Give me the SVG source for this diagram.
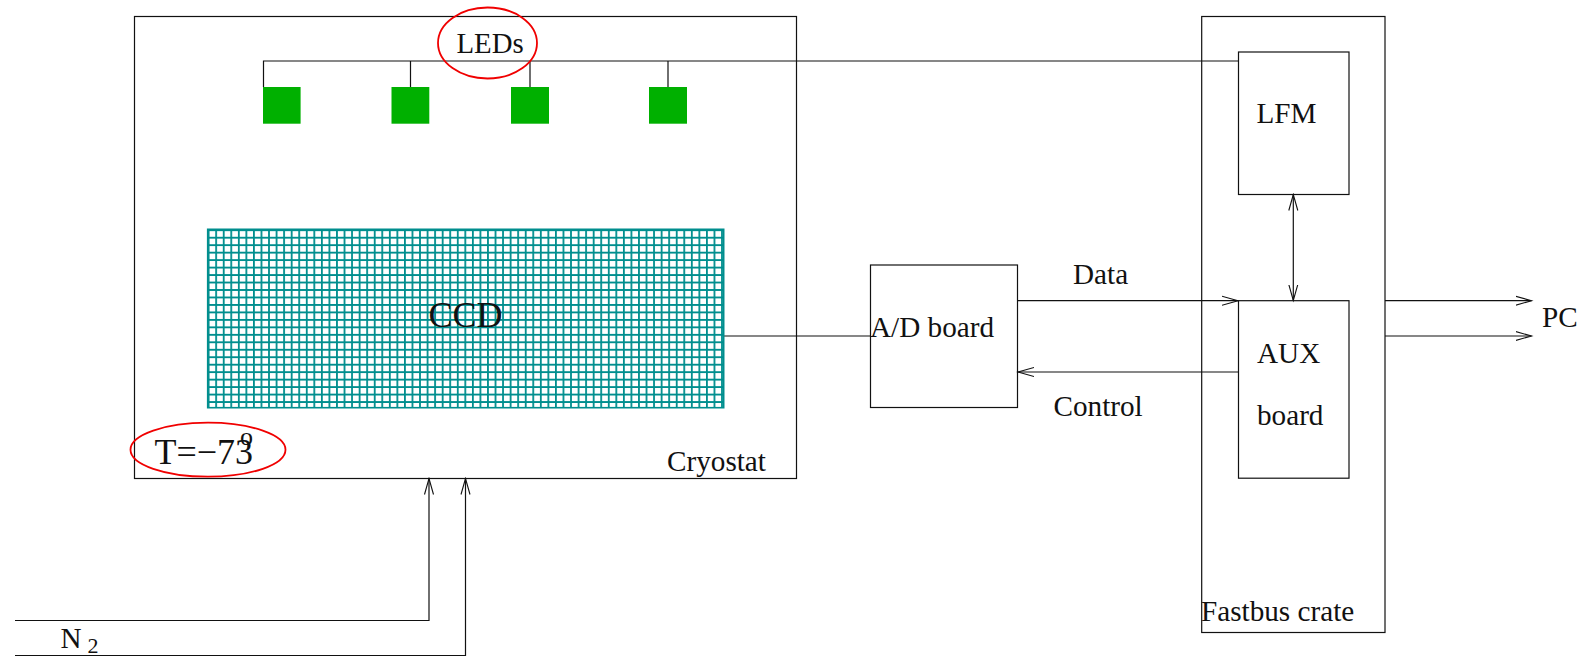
<svg xmlns="http://www.w3.org/2000/svg" width="1585" height="656" viewBox="0 0 1585 656">
<style>
text{font-family:"Liberation Serif","Times New Roman",serif;font-size:29.2px;fill:#111}
.big{font-size:36px}
.box{fill:none;stroke:#111;stroke-width:1.2}
.led{fill:#00b000}
.ring{fill:none;stroke:#f00000;stroke-width:1.8}
.c{fill:none;stroke:#111;stroke-width:1.2}
</style>
<defs>
<pattern id="mesh" x="207.7" y="229.3" width="7.55" height="7.47" patternUnits="userSpaceOnUse">
<path d="M0.9 0V7.47M0 0.9H7.55" fill="none" stroke="#008e8e" stroke-width="1.8"/>
</pattern>
<marker id="open" markerUnits="userSpaceOnUse" markerWidth="18" markerHeight="12" refX="16" refY="6" orient="auto-start-reverse">
<path d="M0 1.5L16 6L0 10.5" fill="none" stroke="#111" stroke-width="1.1"/>
</marker>
</defs>
<g id="cryostat"><rect class="box" x="134.5" y="16.5" width="662" height="462"/><text x="667" y="471">Cryostat</text></g>
<g id="fastbus"><rect class="box" x="1201.7" y="16.5" width="183.3" height="616"/><text x="1201" y="621">Fastbus crate</text></g>
<g id="connectors">
<path class="c" d="M263.5 87V61H1238.5"/>
<path class="c" d="M410.5 61V87M530 61V87M668 61V87"/>
<path class="c" d="M723.5 336H870.5"/>
<path class="c" d="M1017.5 300.7H1238" marker-end="url(#open)"/>
<path class="c" d="M1238.5 372H1018" marker-end="url(#open)"/>
<path class="c" d="M1293.3 194.5V300.5" marker-start="url(#open)" marker-end="url(#open)"/>
<path class="c" d="M1385 300.7H1531.5" marker-end="url(#open)"/>
<path class="c" d="M1385 336H1531.5" marker-end="url(#open)"/>
<path class="c" d="M15 620.5H429V478.5" marker-end="url(#open)"/>
<path class="c" d="M15 655.5H465.5V478.5" marker-end="url(#open)"/>
</g>
<g id="led1"><rect class="led" x="263" y="87" width="37.6" height="36.7"/></g>
<g id="led2"><rect class="led" x="391.5" y="87" width="37.8" height="36.7"/></g>
<g id="led3"><rect class="led" x="511" y="87" width="38" height="36.7"/></g>
<g id="led4"><rect class="led" x="649" y="87" width="38" height="36.7"/></g>
<g id="leds"><ellipse class="ring" cx="487.5" cy="43" rx="49.5" ry="35.5"/><text x="456.5" y="53" style="font-size:28.8px">LEDs</text></g>
<g id="ccd"><rect x="207.7" y="229.3" width="516" height="178.4" fill="url(#mesh)" stroke="#008e8e" stroke-width="1.6"/><text class="big" x="428.5" y="327">CCD</text></g>
<g id="temp"><ellipse class="ring" cx="208" cy="449.7" rx="77.5" ry="27"/><text class="big" x="154.5" y="464">T=−73</text><text x="240" y="445" style="font-size:26px">o</text></g>
<g id="ad"><rect class="box" x="870.5" y="265" width="147" height="142.5"/><text x="870" y="337">A/D board</text></g>
<g id="lfm"><rect class="box" x="1238.5" y="52" width="110.5" height="142.5"/><text x="1256.5" y="123">LFM</text></g>
<g id="aux"><rect class="box" x="1238.5" y="300.7" width="110.5" height="177.5"/><text x="1257" y="363">AUX</text><text x="1257" y="425">board</text></g>
<text x="1073" y="284">Data</text>
<text x="1053.5" y="416">Control</text>
<text x="1542" y="327">PC</text>
<text x="60.5" y="648">N</text>
<text x="87.5" y="653" style="font-size:22px">2</text>
</svg>
